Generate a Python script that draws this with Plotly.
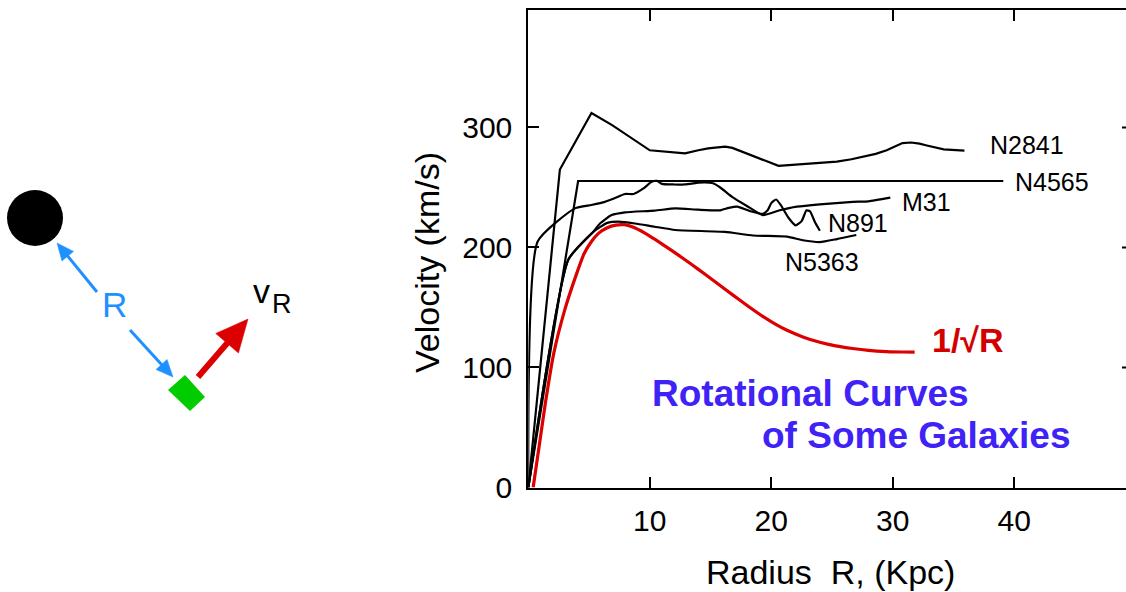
import math
import plotly.graph_objects as go

W, H = 1126, 592

# ---------------- data ----------------
n2841_r = [0, 2.6, 5.2, 6.9, 10.0, 11.5, 12.9, 14.0, 14.8, 16.2, 16.8, 20.6, 25.4, 26.6, 27.6, 28.6, 29.5, 30.2, 30.8, 31.5, 32.2, 32.8, 34.2, 35.9]
n2841_v = [0, 265, 312, 302, 281, 279.5, 278.5, 281, 282.6, 284, 283, 268, 271.5, 273.5, 275.7, 278, 281, 284.5, 287, 287.5, 286.5, 285, 281.8, 280.7]

n4565_r = [0, 4.1, 39.1]
n4565_v = [0, 255.4, 255.4]

m31_r = [0, 0.77, 3.84, 5.2, 6.3, 7.1, 7.95, 8.67, 9.45, 10.16, 10.6, 11.0, 12.0, 12.9, 14.0, 14.5, 15.2, 15.8, 16.8, 18.0, 19.3, 20.7, 22.1, 24.0, 26.7, 28.0, 29.8]
m31_v = [0, 205, 232.6, 235.4, 238, 241, 244.6, 244.6, 249, 254.8, 255.5, 253, 252.5, 252.6, 254, 254.3, 253.5, 250, 242, 234.6, 227, 231, 234, 236, 238, 238.5, 241.5]

n891_r = [0, 3.3, 5.35, 5.9, 6.86, 7.96, 10.4, 12.1, 14.0, 15.8, 16.5, 17.2, 18.2, 19.3, 19.7, 20.0, 20.4, 20.8, 21.4, 22.0, 22.5, 22.9, 23.2, 23.6, 24.0]
n891_v = [0, 190, 213, 220, 227, 229.3, 230.7, 232.6, 231.5, 231, 233, 234, 230.5, 228, 231, 237, 240, 235, 225, 218.5, 222, 231, 230, 221, 214]

n5363_r = [0, 3.3, 5.35, 5.9, 6.5, 7.4, 8.78, 10.4, 12.1, 16.2, 18.5, 21.3, 22.6, 24.0, 25.4, 27.0]
n5363_v = [0, 190, 213, 217, 220.5, 221.5, 220, 217.3, 214.6, 213, 210, 209, 206, 204.5, 207, 210.4]

kepler_r = [0.4, 1.4, 2.1, 3.0, 3.8, 4.6, 5.2, 5.8, 6.5, 7.2, 7.9, 8.6, 9.6, 10.5, 11.7, 12.9, 14.0, 15.1, 16.2, 17.4, 18.3, 19.3, 20.3, 21.3, 22.6, 24.0, 25.3, 26.7, 28.0, 29.5, 30.8, 31.8]
kepler_v = [0, 70, 112, 148, 173, 195, 205, 212, 216.5, 218.7, 219, 217, 212, 206.3, 198.2, 189.8, 181.8, 173.6, 165.2, 156.2, 149.6, 142.6, 136.4, 131, 125.5, 121, 118, 115.8, 114.3, 113.3, 112.9, 112.8]

galaxy_names = ["N2841", "N4565", "M31", "N891", "N5363"]
label_r = [37.8, 39.9, 30.6, 24.5, 21.0]
label_v = [285.4, 254.8, 238.0, 220.7, 188.0]

x_ticks = [10, 20, 30, 40]
y_ticks = [0, 100, 200, 300]

FONT = "Liberation Sans, Arial, Helvetica, sans-serif"

fig = go.Figure()
series = [(n2841_r, n2841_v, "linear"), (n4565_r, n4565_v, "linear"), (m31_r, m31_v, "spline"),
          (n891_r, n891_v, "spline"), (n5363_r, n5363_v, "spline")]
for (r, v, shp), name in zip(series, galaxy_names):
    line = dict(color="black", width=2.2, shape=shp)
    if shp == "spline":
        line["smoothing"] = 0.5
    fig.add_trace(go.Scatter(x=r, y=v, mode="lines", name=name, line=line,
                             hoverinfo="skip", showlegend=False))
fig.add_trace(go.Scatter(x=kepler_r, y=kepler_v, mode="lines", name="1/sqrt(R)",
                         line=dict(color="#dc0000", width=3.2, shape="spline", smoothing=0.6),
                         hoverinfo="skip", showlegend=False))

annotations = []
for name, r, v in zip(galaxy_names, label_r, label_v):
    annotations.append(dict(x=r, y=v, xref="x", yref="y", text=name, showarrow=False,
                            xanchor="left", yanchor="middle", font=dict(size=25, color="black", family=FONT)))
annotations.append(dict(x=33.05, y=123, xref="x", yref="y", text="<b>1/√R</b>", showarrow=False,
                        xanchor="left", yanchor="middle", font=dict(size=34, color="#d40000", family=FONT)))
annotations.append(dict(x=10.0, y=78, xref="x", yref="y", text="<b>Rotational Curves</b>", showarrow=False,
                        xanchor="left", yanchor="middle", font=dict(size=37, color="#3f22f5", family=FONT)))
annotations.append(dict(x=19.1, y=43, xref="x", yref="y", text="<b>of Some Galaxies</b>", showarrow=False,
                        xanchor="left", yanchor="middle", font=dict(size=37, color="#3f22f5", family=FONT)))


def fx(px):
    return px / W


def fy(py):
    return 1 - py / H


# axis titles
annotations.append(dict(x=fx(830), y=fy(572), xref="paper", yref="paper", text="Radius\u00a0 R, (Kpc)",
                        showarrow=False, xanchor="center", yanchor="middle",
                        font=dict(size=34, color="black", family=FONT)))
annotations.append(dict(x=fx(427), y=fy(263), xref="paper", yref="paper", text="Velocity (km/s)",
                        showarrow=False, textangle=-90, xanchor="center", yanchor="middle",
                        font=dict(size=34, color="black", family=FONT)))

# diagram labels
annotations.append(dict(x=fx(114), y=fy(304), xref="paper", yref="paper", text="R", showarrow=False,
                        xanchor="center", yanchor="middle", font=dict(size=35, color="#1e90ff", family=FONT)))
annotations.append(dict(x=fx(261), y=fy(291), xref="paper", yref="paper", text="v", showarrow=False,
                        xanchor="center", yanchor="middle", font=dict(size=34, color="black", family=FONT)))
annotations.append(dict(x=fx(282), y=fy(303.5), xref="paper", yref="paper", text="R", showarrow=False,
                        xanchor="center", yanchor="middle", font=dict(size=27, color="black", family=FONT)))

shapes = []


def arrow(tail, tip, width, head_len, head_half, color):
    x0, y0 = tail
    x1, y1 = tip
    d = math.hypot(x1 - x0, y1 - y0)
    ux, uy = (x1 - x0) / d, (y1 - y0) / d
    nx, ny = -uy, ux
    bx, by = x1 - ux * head_len, y1 - uy * head_len
    shapes.append(dict(type="line", xref="paper", yref="paper",
                       x0=fx(x0), y0=fy(y0), x1=fx(bx + ux * 2), y1=fy(by + uy * 2),
                       line=dict(color=color, width=width)))
    pts = [(x1, y1), (bx + nx * head_half, by + ny * head_half), (bx - nx * head_half, by - ny * head_half)]
    path = "M " + " L ".join(f"{fx(a):.5f},{fy(b):.5f}" for a, b in pts) + " Z"
    shapes.append(dict(type="path", xref="paper", yref="paper", path=path,
                       fillcolor=color, line=dict(color=color, width=0.5)))


# black mass
shapes.append(dict(type="circle", xref="paper", yref="paper",
                   x0=fx(35 - 28), x1=fx(35 + 28), y0=fy(218 + 28), y1=fy(218 - 28),
                   fillcolor="black", line=dict(color="black", width=0)))
# blue R arrows
arrow((97, 292), (57, 243), 3, 17, 7.5, "#1e90ff")
arrow((130, 330), (173, 377), 3, 17, 7.5, "#1e90ff")
# green body
diamond = [(185, 375), (205, 397), (190, 411), (168, 390)]
shapes.append(dict(type="path", xref="paper", yref="paper",
                   path="M " + " L ".join(f"{fx(a):.5f},{fy(b):.5f}" for a, b in diamond) + " Z",
                   fillcolor="#00cc00", line=dict(color="#00cc00", width=0)))
# red velocity arrow
arrow((198, 377), (248, 319), 6, 32, 15, "#dc0000")

# right-edge tick stubs
for t in y_ticks[1:]:
    shapes.append(dict(type="line", xref="paper", yref="y", x0=fx(1122), x1=1.0, y0=t, y1=t,
                       line=dict(color="black", width=2)))

fig.update_layout(
    width=W, height=H,
    margin=dict(l=0, r=0, t=0, b=0),
    paper_bgcolor="white", plot_bgcolor="white",
    showlegend=False,
    font=dict(family=FONT, color="black"),
    xaxis=dict(domain=[528.3 / W, 1.0], range=[0, 49.2], tickvals=x_ticks,
               ticks="inside", ticklen=11, tickwidth=2, tickcolor="black",
               showline=True, linewidth=2, linecolor="black", mirror="ticks",
               showgrid=False, zeroline=False, tickfont=dict(size=30, family=FONT),
               ticklabelstandoff=5, automargin=False, fixedrange=True),
    yaxis=dict(domain=[1 - 487.5 / H, 1 - 10 / H], range=[0, 397.9], tickvals=y_ticks,
               ticks="inside", ticklen=11, tickwidth=2, tickcolor="black",
               showline=True, linewidth=2, linecolor="black",
               showgrid=False, zeroline=False, tickfont=dict(size=30, family=FONT),
               ticklabelstandoff=8, automargin=False, fixedrange=True),
    annotations=annotations,
    shapes=shapes,
)

fig.write_html("out.html")
